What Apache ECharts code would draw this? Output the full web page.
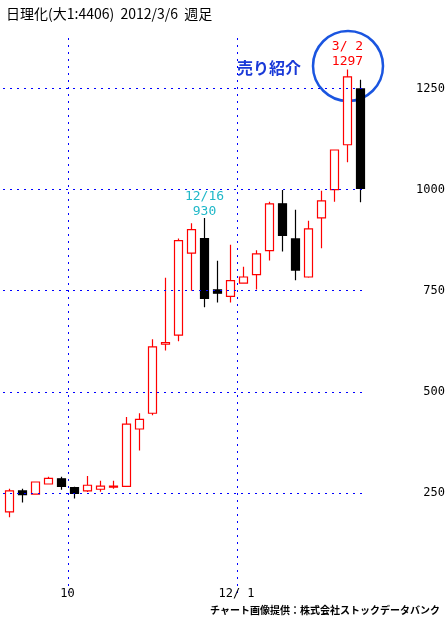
<!DOCTYPE html>
<html>
<head>
<meta charset="utf-8">
<script src="https://cdn.jsdelivr.net/npm/echarts@6/dist/echarts.min.js"></script>
<style>html,body{margin:0;padding:0;background:#fff}#c{width:448px;height:638px}</style>
</head>
<body>
<div id="c"></div>
<script>
// weekly candles, 2011/9/2 .. 2012/3/9
var dates = ['9/2','9/9','9/16','9/22','9/30','10/7','10/14','10/21','10/28','11/4','11/11','11/18','11/25','12/2',
  '12/9','12/16','12/22','12/30','1/6','1/13','1/20','1/27','2/3','2/10','2/17','2/24','3/2','3/9'];
var opens  = [203,255,247,272,285,263,255,259,264,266,408,447,618,640,843,879,752,736,769,790,849,965,878,784,930,1000,1111,1249];
var closes = [255,246,277,286,266,249,269,267,267,420,432,611,622,874,901,731,744,775,784,841,965,887,801,903,972,1098,1279,1003];
var lows   = [190,226,247,272,258,236,252,253,260,266,355,442,602,625,750,709,721,721,769,753,825,847,776,782,855,970,1068,969];
var highs  = [260,260,277,290,290,265,292,280,280,438,447,630,782,879,917,930,824,864,809,850,970,999,950,923,997,1098,1297,1272];
var yTicks = [250,500,750,1000,1250];
var monthMarks = {5:'10', 18:'12/ 1'};

var candles = [];
for (var i = 0; i < dates.length; i++) {
  candles.push([opens[i], closes[i], lows[i], highs[i]]);
}

var chart = echarts.init(document.getElementById('c'));
chart.setOption({
  animation: false,
  grid: {left: 3, width: 364, top: 38, bottom: 44},
  xAxis: {
    type: 'category',
    data: dates,
    axisLine: {show: false},
    axisTick: {show: false},
    axisLabel: {
      interval: function (idx) { return monthMarks[idx] !== undefined; },
      formatter: function (v, idx) { return monthMarks[idx] || ''; },
      color: '#000', fontSize: 12, fontFamily: 'DejaVu Sans Mono', margin: -6,
      padding: [0, 14, 0, 0]
    },
    splitLine: {
      show: true, showMaxLine: false,
      interval: function (idx) { return monthMarks[idx] !== undefined; },
      lineStyle: {color: '#0000ff', type: [2, 5], width: 1}
    }
  },
  yAxis: {
    type: 'value', position: 'right', min: 0, max: 1375, interval: 250,
    axisLine: {show: false}, axisTick: {show: false}, splitLine: {show: false},
    axisLabel: {
      formatter: function (v) { return v > 0 && v <= 1250 ? v : ''; },
      align: 'right', margin: 78, color: '#000', fontSize: 12, fontFamily: 'DejaVu Sans Mono'
    }
  },
  series: [{
    type: 'candlestick',
    data: candles,
    barWidth: 8,
    itemStyle: {color: '#fff', color0: '#000', borderColor: '#f00', borderColor0: '#000', borderWidth: 1.2},
    markLine: {
      silent: true, symbol: 'none', label: {show: false},
      lineStyle: {color: '#0000ff', type: [2, 5], width: 1},
      data: yTicks.map(function (t) { return {yAxis: t}; })
    },
    markPoint: {
      symbol: 'circle', symbolSize: 1,
      itemStyle: {color: 'transparent'},
      data: [
        {coord: [15, 930], value: '12/16\n930',
         label: {color: '#20b8c8', position: 'top', distance: -2, fontSize: 13, lineHeight: 15, fontFamily: 'DejaVu Sans Mono', formatter: '{c}'}},
        {coord: [26, 1297], value: '3/ 2\n1297',
         label: {color: '#f00', position: 'top', distance: 0, fontSize: 13, lineHeight: 15, fontFamily: 'DejaVu Sans Mono', formatter: '{c}'}}
      ]
    }
  }],
  graphic: [
    {type: 'text', left: 6, top: 7, style: {text: '日理化(大1:4406)  2012/3/6  週足', font: '14px "Noto Sans CJK JP"', fill: '#000'}},
    {type: 'text', left: 237, top: 60, style: {text: '売り紹介', font: 'bold 16px "Noto Sans CJK JP"', fill: '#1a3ad8'}},
    {type: 'circle', shape: {cx: 348, cy: 66, r: 35}, style: {fill: 'none', stroke: '#1a55e0', lineWidth: 2.5}},
    {type: 'text', right: 8, top: 605, style: {text: 'チャート画像提供：株式会社ストックデータバンク', font: 'bold 10px "Noto Sans CJK JP"', fill: '#000'}}
  ]
});
</script>
</body>
</html>
